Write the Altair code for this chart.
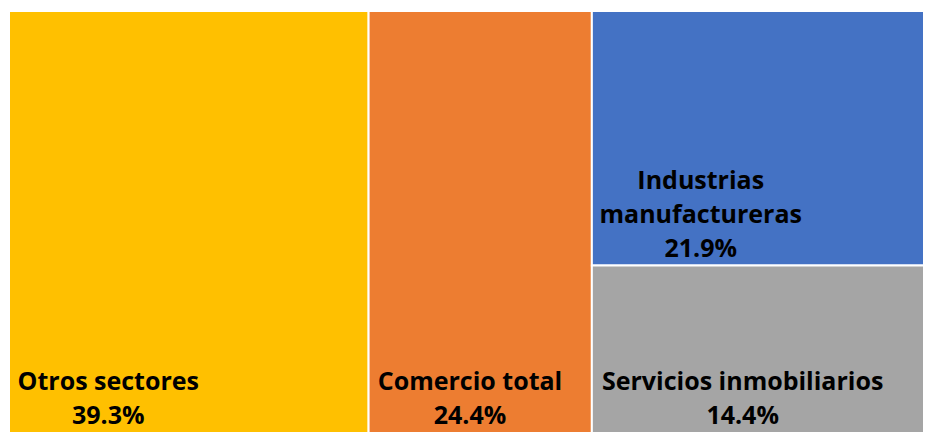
import altair as alt
import pandas as pd

# ---- data ----
sectores = ["Otros sectores", "Comercio total", "Industrias manufactureras", "Servicios inmobiliarios"]
lineas_etiqueta = [["Otros sectores"], ["Comercio total"], ["Industrias", "manufactureras"], ["Servicios inmobiliarios"]]
porcentajes = [39.3, 24.4, 21.9, 14.4]
colores = ["#FFC000", "#ED7D31", "#4472C4", "#A5A5A5"]

TOTAL_W, TOTAL_H = 917, 426
PAD_TOP = 2
W, H = TOTAL_W, TOTAL_H - PAD_TOP
LINE_H = 34
FONT_SIZE = 25


# ---- squarified treemap layout computed from the values ----
def worst(row, side):
    s = sum(row)
    return max(max(side * side * r / (s * s), s * s / (side * side * r)) for r in row)


def squarify(areas, x, y, w, h):
    rects = []
    areas = list(areas)
    while areas:
        side = min(w, h)
        row = [areas[0]]
        i = 1
        while i < len(areas) and worst(row + [areas[i]], side) <= worst(row, side):
            row.append(areas[i])
            i += 1
        areas = areas[i:]
        s = sum(row)
        if w >= h:
            cw = s / h
            yy = y
            for a in row:
                rh = a / cw
                rects.append((x, yy, x + cw, yy + rh))
                yy += rh
            x += cw
            w -= cw
        else:
            rh = s / w
            xx = x
            for a in row:
                rw = a / rh
                rects.append((xx, y, xx + rw, y + rh))
                xx += rw
            y += rh
            h -= rh
    return rects


def text_width(s):
    # rough width estimate (in em) for a bold sans-serif
    w = 0.0
    for ch in s:
        if ch in "ijl.":
            w += 0.30
        elif ch in "tfr":
            w += 0.42
        elif ch == " ":
            w += 0.26
        elif ch in "m":
            w += 0.95
        elif ch in "sce":
            w += 0.54
        elif ch.isupper():
            w += 0.70
        else:
            w += 0.60
    return w * FONT_SIZE


total = sum(porcentajes)
areas = [p / total * W * H for p in porcentajes]
rects = squarify(areas, 0, 0, W, H)

rows = []
for name, lines, p, (x0, y0, x1, y1) in zip(sectores, lineas_etiqueta, porcentajes, rects):
    all_lines = lines + [f"{p:.1f}%"]
    block_w = max(text_width(l) for l in all_lines)
    rows.append({
        "sector": name,
        "label": "\n".join(all_lines),
        "x0": x0, "x1": x1, "y0": y0, "y1": y1,
        "lx": x0 + 11 + block_w / 2,
        "ly": y1 - 9 - (len(all_lines) - 1) * LINE_H,
    })
df = pd.DataFrame(rows)

xs = alt.Scale(domain=[0, W], nice=False, zero=False)
ys = alt.Scale(domain=[0, H], nice=False, zero=False, reverse=True)

rect = alt.Chart(df).mark_rect(stroke="white", strokeWidth=2).encode(
    x=alt.X("x0:Q", scale=xs, axis=None),
    x2="x1:Q",
    y=alt.Y("y0:Q", scale=ys, axis=None),
    y2="y1:Q",
    color=alt.Color("sector:N", scale=alt.Scale(domain=sectores, range=colores), legend=None),
)

text = alt.Chart(df).mark_text(
    font="Open Sans", fontWeight="bold", fontSize=FONT_SIZE, color="black",
    align="center", baseline="alphabetic", lineBreak="\n", lineHeight=LINE_H,
).encode(
    x=alt.X("lx:Q", scale=xs, axis=None),
    y=alt.Y("ly:Q", scale=ys, axis=None),
    text="label:N",
)

chart = (rect + text).properties(
    width=TOTAL_W, height=TOTAL_H,
    padding={"left": 0, "top": PAD_TOP, "right": 0, "bottom": 0},
    autosize=alt.AutoSizeParams(type="fit", contains="padding"),
).configure_view(stroke=None)

chart.save("out.html", embed_options={"renderer": "svg", "actions": False})
